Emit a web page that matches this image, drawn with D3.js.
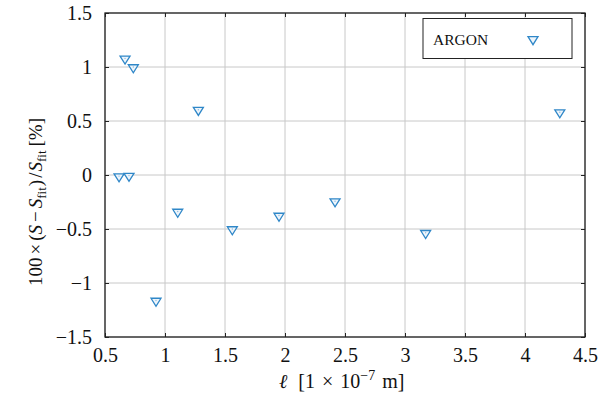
<!DOCTYPE html>
<html><head><meta charset="utf-8">
<script src="https://cdn.jsdelivr.net/npm/d3@7"></script>
<style>body{margin:0;background:#fff}</style>
</head><body>
<svg id="c" width="600" height="404"></svg>
<script>
const xValues = [0.617, 0.70, 0.667, 0.736, 0.925, 1.106, 1.278, 1.561, 1.95, 2.417, 3.172, 4.29];
const yValues = [-0.015, -0.01, 1.075, 0.995, -1.167, -0.343, 0.60, -0.505, -0.38, -0.247, -0.54, 0.577];
const xTicks = [0.5, 1, 1.5, 2, 2.5, 3, 3.5, 4, 4.5];
const yTicks = [-1.5, -1, -0.5, 0, 0.5, 1, 1.5];
const seriesName = "ARGON";

const svg = d3.select("#c");
const L = 105, R = 585, T = 13, B = 337;
const x = d3.scaleLinear().domain([0.5, 4.5]).range([L, R]);
const y = d3.scaleLinear().domain([-1.5, 1.5]).range([B, T]);
const font = "'Liberation Serif', 'DejaVu Serif', serif";
const fmt = v => (v < 0 ? "\u2212" : "") + Math.abs(v);

// grid
const g = svg.append("g");
g.selectAll("line.gx").data(xTicks).join("line")
  .attr("x1", d => x(d)).attr("x2", d => x(d)).attr("y1", T).attr("y2", B)
  .attr("stroke", "#c8c8c8").attr("stroke-width", 1);
g.selectAll("line.gy").data(yTicks).join("line")
  .attr("y1", d => y(d)).attr("y2", d => y(d)).attr("x1", L).attr("x2", R)
  .attr("stroke", "#c8c8c8").attr("stroke-width", 1);

// axes with inward ticks
const axB = d3.axisBottom(x).tickValues(xTicks).tickSize(-4).tickPadding(11).tickFormat(fmt);
const axL = d3.axisLeft(y).tickValues(yTicks).tickSize(-4).tickPadding(13).tickFormat(fmt);
const axT = d3.axisTop(x).tickValues(xTicks).tickSize(-4).tickFormat("");
const axR = d3.axisRight(y).tickValues(yTicks).tickSize(-4).tickFormat("");
function style(sel){
  sel.select(".domain").remove();
  sel.selectAll(".tick line").attr("stroke", "#222").attr("stroke-width", 1);
  sel.selectAll(".tick text").attr("font-family", font).attr("font-size", 20).attr("fill", "#111");
}
svg.append("g").attr("transform", `translate(0,${B})`).call(axB).call(style);
svg.append("g").attr("transform", `translate(${L},0)`).call(axL).call(style);
svg.append("g").attr("transform", `translate(0,${T})`).call(axT).call(style);
svg.append("g").attr("transform", `translate(${R},0)`).call(axR).call(style);
svg.append("rect").attr("x", L).attr("y", T).attr("width", R - L).attr("height", B - T)
  .attr("fill", "none").attr("stroke", "#222").attr("stroke-width", 1.3);

// markers
const tri = "M-5,-2.8 L5,-2.8 L0,5.2 Z";
const pts = xValues.map((v, i) => [v, yValues[i]]);
svg.append("g").selectAll("path").data(pts).join("path")
  .attr("d", tri)
  .attr("transform", d => `translate(${x(d[0])},${y(d[1])})`)
  .attr("fill", "#eef5fb").attr("stroke", "#2f87c8").attr("stroke-width", 1.3);
svg.append("g").selectAll("circle").data(pts).join("circle")
  .attr("cx", d => x(d[0])).attr("cy", d => y(d[1]) - 0.5).attr("r", 0.7).attr("fill", "#8fbde0");

// legend
svg.append("rect").attr("x", 423).attr("y", 18.5).attr("width", 149).attr("height", 40)
  .attr("fill", "#fff").attr("stroke", "#222").attr("stroke-width", 1);
svg.append("text").attr("x", 433).attr("y", 44.5).attr("font-family", font).attr("font-size", 15.5)
  .attr("fill", "#111").text(seriesName);
svg.append("path").attr("d", tri).attr("transform", "translate(533,39.5)")
  .attr("fill", "#eef5fb").attr("stroke", "#2f87c8").attr("stroke-width", 1.3);

// x label
const xl = svg.append("text").attr("x", 279).attr("y", 388).attr("text-anchor", "start")
  .attr("font-family", font).attr("font-size", 20).attr("fill", "#111");
xl.append("tspan").attr("font-style", "italic").text("\u2113");
xl.append("tspan").attr("dx", 6).text(" [1");
xl.append("tspan").attr("dx", 7).text("\u00d7");
xl.append("tspan").attr("dx", 7).text("10");
xl.append("tspan").attr("font-size", 14).attr("dy", -8).text("\u22127");
xl.append("tspan").attr("dy", 8).attr("dx", 7).text("m]");

// y label
const yl = svg.append("text").attr("transform", "translate(42,286) rotate(-90)").attr("text-anchor", "start")
  .attr("font-family", font).attr("font-size", 19).attr("fill", "#111");
yl.append("tspan").text("100");
yl.append("tspan").attr("dx", 3).text("\u00d7");
yl.append("tspan").attr("dx", 3).text("(");
yl.append("tspan").attr("font-style", "italic").text("S");
yl.append("tspan").attr("dx", 3).text("\u2212");
yl.append("tspan").attr("dx", 3).attr("font-style", "italic").text("S");
yl.append("tspan").attr("font-size", 13).attr("dy", 4).text("fit");
yl.append("tspan").attr("dy", -4).attr("dx", 1).text(")");
yl.append("tspan").attr("dx", 2).text("/");
yl.append("tspan").attr("dx", 1).attr("font-style", "italic").text("S");
yl.append("tspan").attr("font-size", 13).attr("dy", 4).text("fit");
yl.append("tspan").attr("dy", -4).attr("dx", 4).text("[%]");
</script>
</body></html>
